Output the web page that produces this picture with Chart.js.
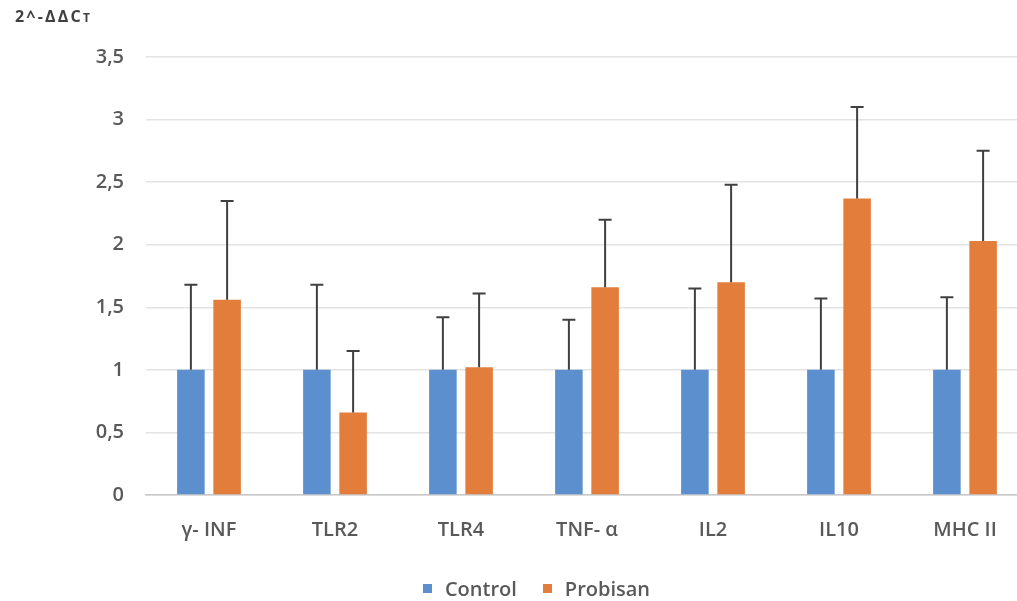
<!DOCTYPE html>
<html>
<head>
<meta charset="utf-8">
<script src="https://cdn.jsdelivr.net/npm/chart.js@4/dist/chart.umd.min.js"></script>
<style>
  html, body { margin: 0; padding: 0; overflow: hidden; background: #ffffff; width: 1017px; height: 601px; }
  #wrap { position: relative; width: 1028px; height: 601px; }
  #ytitle { position: absolute; left: 15px; top: 5px; font-family: "Open Sans", sans-serif; font-weight: bold; font-size: 16px; color: #404040; letter-spacing: 2.2px; }
  #ytitle span { font-size: 12px; }
  #legend { position: absolute; left: 0; width: 1073px; top: 574px; height: 28px; display: flex; justify-content: center; align-items: center; font-family: "Open Sans", sans-serif; font-weight: 600; font-size: 20px; color: #595959; }
  .item { display: flex; align-items: center; margin: 0 13px; }
  .box { width: 9px; height: 9px; margin-right: 13px; }
</style>
</head>
<body>
<div id="wrap">
  <div id="ytitle">2^-ΔΔC<span>T</span></div>
  <canvas id="c" width="1028" height="601"></canvas>
  <div id="legend"></div>
</div>
<script>
const categories = ["γ- INF", "TLR2", "TLR4", "TNF- α", "IL2", "IL10", "MHC II"];
const seriesNames = ["Control", "Probisan"];
const controlValues = [1, 1, 1, 1, 1, 1, 1];
const controlErrors = [0.68, 0.68, 0.42, 0.40, 0.65, 0.57, 0.58];
const probisanValues = [1.56, 0.66, 1.02, 1.66, 1.70, 2.37, 2.03];
const probisanErrors = [0.79, 0.49, 0.59, 0.54, 0.78, 0.73, 0.72];
const yTicks = [0, 0.5, 1, 1.5, 2, 2.5, 3, 3.5];
const seriesColors = ['#5b8fcd', '#e27d3c'];

const errorBarPlugin = {
  id: 'errorBars',
  afterDatasetsDraw(chart) {
    const ctx = chart.ctx;
    const yScale = chart.scales.y;
    chart.data.datasets.forEach((ds, di) => {
      const meta = chart.getDatasetMeta(di);
      meta.data.forEach((bar, i) => {
        const v = ds.data[i];
        const e = ds.errors[i];
        const yTop = yScale.getPixelForValue(v + e);
        const yBase = yScale.getPixelForValue(v);
        ctx.save();
        ctx.strokeStyle = '#404040';
        ctx.lineWidth = 2;
        ctx.beginPath();
        ctx.moveTo(bar.x, yBase);
        ctx.lineTo(bar.x, yTop);
        ctx.moveTo(bar.x - 6.5, yTop);
        ctx.lineTo(bar.x + 6.5, yTop);
        ctx.stroke();
        ctx.restore();
      });
    });
  }
};

const font = { family: '"Open Sans", sans-serif', size: 20, weight: '600' };

const chart = new Chart(document.getElementById('c'), {
  type: 'bar',
  data: {
    labels: categories,
    datasets: [
      { label: seriesNames[0], data: controlValues, errors: controlErrors, backgroundColor: seriesColors[0], categoryPercentage: 0.575, barPercentage: 0.76 },
      { label: seriesNames[1], data: probisanValues, errors: probisanErrors, backgroundColor: seriesColors[1], categoryPercentage: 0.575, barPercentage: 0.76 }
    ]
  },
  options: {
    responsive: false,
    animation: false,
    layout: { padding: { left: 48, right: 0, top: 57, bottom: 28 } },
    plugins: {
      legend: { display: false },
      tooltip: { enabled: false }
    },
    scales: {
      x: {
        grid: { display: false, drawTicks: false },
        border: { display: true, color: '#c8c8c8', width: 1.5 },
        ticks: { color: '#595959', font: font, padding: 23, maxRotation: 0 },
        afterFit(scale) { scale.height = 78; }
      },
      y: {
        min: 0, max: 3.5,
        afterBuildTicks(scale) { scale.ticks = yTicks.map(v => ({ value: v })); },
        grid: { color: '#e3e3e3', lineWidth: 1.5, drawTicks: false },
        border: { display: false },
        ticks: {
          color: '#595959', font: font, padding: 22,
          callback: (v) => String(v).replace('.', ',')
        },
        afterFit(scale) { scale.width = 98; }
      }
    }
  },
  plugins: [errorBarPlugin]
});

const legend = document.getElementById('legend');
chart.data.datasets.forEach(ds => {
  const item = document.createElement('div');
  item.className = 'item';
  const box = document.createElement('div');
  box.className = 'box';
  box.style.background = ds.backgroundColor;
  const txt = document.createElement('span');
  txt.textContent = ds.label;
  item.appendChild(box);
  item.appendChild(txt);
  legend.appendChild(item);
});
</script>
</body>
</html>
